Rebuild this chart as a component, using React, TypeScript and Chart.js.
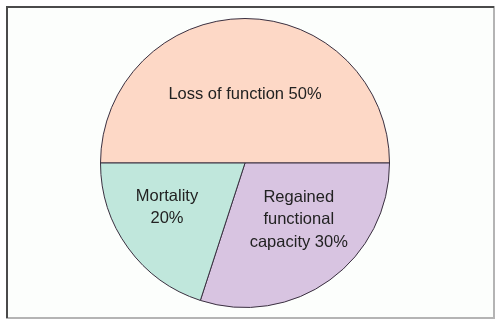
import React, { useEffect, useRef } from "react";
import { Chart, registerables } from "chart.js";

Chart.register(...registerables);

const categories = ["Loss of function", "Regained functional capacity", "Mortality"];
const values = [50, 30, 20];
const labelLines = [["Loss of function 50%"], ["Regained", "functional", "capacity 30%"], ["Mortality", "20%"]];
const colors = ["#FDD8C6", "#D8C4E1", "#C0E7DC"];

const labelPlugin = {
  id: "sliceLabels",
  afterDatasetsDraw(chart: any) {
    const ctx = chart.ctx;
    const meta = chart.getDatasetMeta(0);
    const offsets = [
      [0, -0.476],
      [0.372, 0.393],
      [-0.54, 0.307],
    ];
    ctx.save();
    ctx.font = "16.5px 'Liberation Sans', Arial, sans-serif";
    ctx.fillStyle = "#222222";
    ctx.textAlign = "center";
    ctx.textBaseline = "middle";
    meta.data.forEach((arc: any, i: number) => {
      const r = arc.outerRadius;
      const cx = arc.x + offsets[i][0] * r;
      const cy = arc.y + offsets[i][1] * r;
      const lines = labelLines[i];
      const lh = 22.5;
      const start = cy - ((lines.length - 1) * lh) / 2;
      lines.forEach((t, j) => ctx.fillText(t, cx, start + j * lh));
    });
    ctx.restore();
  },
};

const framePlugin = {
  id: "frame",
  beforeDraw(chart: any) {
    const ctx = chart.ctx;
    ctx.save();
    ctx.fillStyle = "#FCFEFC";
    ctx.fillRect(7, 7, 486, 310);
    ctx.lineWidth = 2;
    ctx.strokeStyle = "#B4B4B4";
    ctx.beginPath();
    ctx.moveTo(494, 6);
    ctx.lineTo(494, 318);
    ctx.lineTo(6, 318);
    ctx.stroke();
    ctx.strokeStyle = "#4A4A4A";
    ctx.beginPath();
    ctx.moveTo(7, 318);
    ctx.lineTo(7, 7);
    ctx.lineTo(494, 7);
    ctx.stroke();
    ctx.restore();
  },
};

export default function App() {
  const ref = useRef<HTMLCanvasElement>(null);
  useEffect(() => {
    if (!ref.current) return;
    const chart = new Chart(ref.current, {
      type: "pie",
      data: {
        labels: categories,
        datasets: [
          {
            data: values,
            backgroundColor: colors,
            borderColor: "#3A3040",
            borderWidth: 1,
            hoverOffset: 0,
          },
        ],
      },
      options: {
        responsive: false,
        animation: false,
        events: [],
        rotation: 270,
        layout: { padding: { left: 100, right: 110, top: 18, bottom: 15 } },
        plugins: { legend: { display: false }, tooltip: { enabled: false } },
      },
      plugins: [framePlugin, labelPlugin],
    });
    return () => chart.destroy();
  }, []);
  return (
    <div style={{ position: "absolute", left: 0, top: 0, width: 500, height: 323, background: "#fff" }}>
      <canvas ref={ref} width={500} height={323} style={{ display: "block" }} />
    </div>
  );
}
